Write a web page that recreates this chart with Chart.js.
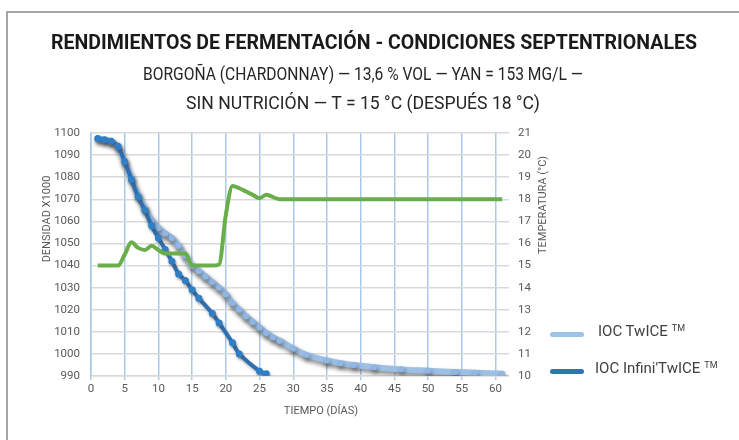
<!DOCTYPE html>
<html>
<head>
<meta charset="utf-8">
<script src="https://cdn.jsdelivr.net/npm/chart.js@4.4.1/dist/chart.umd.min.js"></script>
<style>
  html, body { margin:0; padding:0; background:#fff; width:739px; height:440px; overflow:hidden; }
  #frame { position:absolute; left:6px; top:11px; width:800px; height:500px; border:2px solid #a6a6a6; box-sizing:border-box; }
  canvas { position:absolute; left:0; top:0; }
  .t { position:absolute; white-space:nowrap; transform-origin:0 0; font-family: Roboto, "Liberation Sans", sans-serif; }
  #title { font-weight:700; font-size:21px; color:#1a1a1a; top:30px; }
  .sub { font-weight:400; font-size:19px; color:#262626; }
  #sub1 { top:62px; }
  #sub2 { top:91px; }
  .leg { position:absolute; font-family: Roboto, "Liberation Sans", sans-serif; font-size:15px; color:#404040; white-space:nowrap; }
  .leg .sw { position:absolute; width:34px; height:5px; border-radius:3px; }
  .leg sup { font-size:9px; vertical-align:5px; margin-left:4px; }
</style>
</head>
<body>
<div id="frame"></div>
<canvas id="c" width="739" height="440"></canvas>
<div id="title" class="t" data-w="646" data-cx="374">RENDIMIENTOS DE FERMENTACIÓN - CONDICIONES SEPTENTRIONALES</div>
<div id="sub1" class="t sub" data-w="440" data-cx="363">BORGOÑA (CHARDONNAY) — 13,6 % VOL — YAN = 153 MG/L —</div>
<div id="sub2" class="t sub" data-w="354" data-cx="363">SIN NUTRICIÓN — T = 15 °C (DESPUÉS 18 °C)</div>
<div class="leg" style="left:550px;top:322px;"><div class="sw" style="left:0;top:10px;background:#9dc3e6;"></div><span style="position:absolute;left:48px;top:0;">IOC TwICE<sup>TM</sup></span></div>
<div class="leg" style="left:550px;top:359px;"><div class="sw" style="left:0;top:10px;background:#2e75b6;"></div><span style="position:absolute;left:45px;top:0;">IOC Infini'TwICE<sup>TM</sup></span></div>
<script>
// ---- data ----
const twiceDays    = [1, 2, 3, 4, 5, 6, 7, 8, 9, 10, 11, 12, 13, 14, 15, 16, 17, 18, 19, 20, 21, 22, 23, 24, 25, 26, 27, 28, 30, 32, 35, 37, 39, 42, 46, 50, 54, 57, 61];
const twiceDensity = [1097.5, 1097, 1096.2, 1094, 1087, 1079.5, 1072, 1066, 1060.5, 1057, 1054.5, 1052.5, 1049, 1044.5, 1040, 1037.5, 1035, 1032.5, 1030, 1027, 1023, 1020, 1017, 1014.5, 1012, 1009.5, 1007.5, 1006, 1002.5, 999.5, 997, 995.8, 995, 994, 993, 992.4, 991.8, 991.5, 991];
const infiniDays    = [1, 2, 3, 4, 5, 6, 7, 8, 9, 10, 11, 12, 13, 14, 15, 16, 18, 19, 21, 22, 25, 26];
const infiniDensity = [1097.5, 1097, 1096.3, 1094, 1087, 1079, 1071, 1065, 1058, 1052.5, 1047.3, 1042, 1036.2, 1033.2, 1029, 1025.2, 1018.3, 1014, 1005, 1000, 992.2, 991];
const tempDays   = [1, 2, 3, 4, 5, 6, 7, 8, 9, 10, 11, 12, 13, 14, 15, 16, 17, 18, 19, 20, 21, 22, 23, 24, 25, 26, 27, 28, 30, 35, 40, 45, 50, 55, 61];
const tempValues = [15, 15, 15, 15, 15.5, 16.05, 15.8, 15.7, 15.9, 15.7, 15.55, 15.55, 15.55, 15.55, 15.0, 15, 15, 15, 15.05, 17.3, 18.6, 18.5, 18.35, 18.2, 18.05, 18.2, 18.1, 18.0, 18, 18, 18, 18, 18, 18, 18];
const xTickValues = [0, 5, 10, 15, 20, 25, 30, 35, 40, 45, 50, 55, 60];
const seriesNames = ["IOC TwICE ™", "IOC Infini'TwICE ™", "Temperatura"];
const xTitle = "TIEMPO (DÍAS)";
const yTitle = "DENSIDAD X1000";
const y2Title = "TEMPERATURA (°C)";

function pts(xs, ys) { return xs.map((x, i) => ({ x: x, y: ys[i] })); }

// fit title texts
document.querySelectorAll('.t').forEach(el => {
  const w = el.getBoundingClientRect().width;
  const tw = +el.dataset.w, cx = +el.dataset.cx;
  const s = tw / w;
  el.style.left = (cx - tw / 2) + 'px';
  el.style.transform = 'scaleX(' + s + ')';
});

const shadowPlugin = {
  id: 'shadow',
  beforeDatasetDraw(chart, args) {
    const ds = chart.data.datasets[args.index];
    if (ds.shadow) {
      const ctx = chart.ctx;
      ctx.save();
      ctx.shadowColor = ds.shadow.color;
      ctx.shadowBlur = ds.shadow.blur;
      ctx.shadowOffsetX = ds.shadow.dx;
      ctx.shadowOffsetY = ds.shadow.dy;
    }
  },
  afterDatasetDraw(chart, args) {
    const ds = chart.data.datasets[args.index];
    if (ds.shadow) chart.ctx.restore();
  }
};

const axisTitles = {
  id: 'axisTitles',
  afterDraw(chart) {
    const ctx = chart.ctx;
    ctx.save();
    ctx.fillStyle = '#595959';
    ctx.font = '11px Roboto, "Liberation Sans", sans-serif';
    ctx.textAlign = 'center';
    ctx.textBaseline = 'middle';
    ctx.fillText(xTitle, 321, 411);
    ctx.save(); ctx.translate(47, 219); ctx.rotate(-Math.PI / 2); ctx.fillText(yTitle, 0, 0); ctx.restore();
    ctx.save(); ctx.translate(543, 205); ctx.rotate(-Math.PI / 2); ctx.fillText(y2Title, 0, 0); ctx.restore();
    ctx.restore();
  }
};

const tickFont = { family: 'Roboto, "Liberation Sans", sans-serif', size: 11.5 };

new Chart(document.getElementById('c'), {
  type: 'line',
  data: {
    datasets: [
      {
        label: seriesNames[2], data: pts(tempDays, tempValues), yAxisID: 'y2',
        borderColor: '#6aad4b', borderWidth: 4, pointRadius: 0,
        cubicInterpolationMode: 'monotone', fill: false
      },
      {
        label: seriesNames[1], data: pts(infiniDays, infiniDensity), yAxisID: 'y',
        borderColor: '#2e6fb2', borderWidth: 4, pointRadius: 3.5, pointBorderWidth: 0,
        pointBackgroundColor: '#2f7fc6', tension: 0.3, fill: false,
        shadow: { color: 'rgba(70,70,70,0.45)', blur: 3, dx: 1, dy: 2 }
      },
      {
        label: seriesNames[0], data: pts(twiceDays, twiceDensity), yAxisID: 'y',
        borderColor: '#9dc0e6', borderWidth: 6, pointRadius: 3, pointBorderWidth: 0,
        pointBackgroundColor: '#8fb6e4', tension: 0.3, fill: false,
        shadow: { color: 'rgba(60,60,60,0.6)', blur: 4, dx: 1, dy: 3 }
      }
    ]
  },
  options: {
    responsive: false,
    animation: false,
    events: [],
    layout: { padding: { top: 133, left: 0, right: 0, bottom: 0 } },
    plugins: { legend: { display: false }, title: { display: false }, tooltip: { enabled: false } },
    scales: {
      x: {
        type: 'linear', min: 0, max: 62,
        afterFit(s) { s.height = 64; },
        afterBuildTicks(s) { s.ticks = xTickValues.map(v => ({ value: v })); },
        ticks: { color: '#595959', font: tickFont, padding: 2, maxRotation: 0, autoSkip: false,
                 callback: v => String(v) },
        grid: { color: '#a8c9eb', lineWidth: 1.5, drawTicks: true, tickLength: 4 },
        border: { color: '#d9d9d9', width: 1.5 }
      },
      y: {
        position: 'left', min: 990, max: 1100,
        afterFit(s) { s.width = 91; },
        ticks: { stepSize: 10, color: '#595959', font: tickFont, padding: 11, callback: v => String(v) },
        grid: { color: '#d9d9d9', lineWidth: 1.5, drawTicks: false },
        border: { color: '#a8c9eb', width: 1.5 }
      },
      y2: {
        position: 'right', min: 10, max: 21,
        afterFit(s) { s.width = 230; },
        ticks: { stepSize: 1, color: '#595959', font: tickFont, padding: 9, callback: v => String(v) },
        grid: { display: false, drawTicks: false },
        border: { display: false }
      }
    }
  },
  plugins: [shadowPlugin, axisTitles]
});
</script>
</body>
</html>
